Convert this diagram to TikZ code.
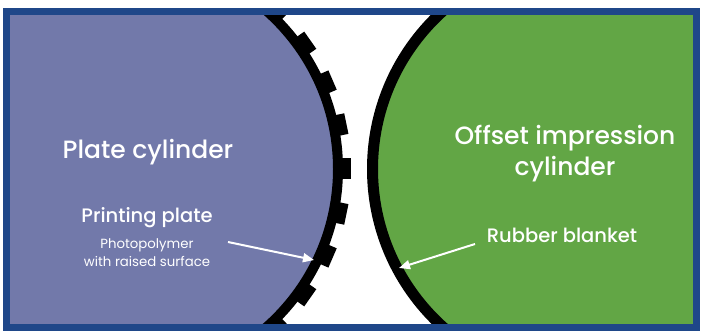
\documentclass[tikz,border=0pt]{standalone}
\usepackage{fontspec}
\setmainfont{Poppins}[BoldFont={Poppins Medium}]
\usetikzlibrary{arrows.meta,positioning}

\definecolor{platecol}{HTML}{7279AA}
\definecolor{offsetcol}{HTML}{62A645}
\definecolor{framecol}{HTML}{1F4789}

\begin{document}
\begin{tikzpicture}[
			x=1pt, y=-1pt,
			node distance=2pt,
			title/.style={text=white, font=\bfseries\fontsize{25}{31.5}\selectfont, align=center},
			label/.style={text=white, font=\bfseries\fontsize{19.5}{22}\selectfont},
			note/.style={text=white, font=\fontsize{13.3}{18.5}\selectfont, align=center},
			tooth/.style={fill=black, minimum width=10pt, minimum height=21pt, inner sep=0pt},
			pointer/.style={draw=white, line width=2pt, -{Triangle[length=11pt, width=9pt]}},
		]
			\useasboundingbox (0,0) rectangle (701,331);
			\coordinate (platecenter) at (127,169);
			\coordinate (offsetcenter) at (585,169);

			\begin{scope}
				\clip (10,15) rectangle (693,323);
				\fill[white] (10,15) rectangle (693,323);
				% plate cylinder with printing plate
				\fill[platecol, draw=black, line width=10pt] (platecenter) circle[radius=211pt];
				\foreach \a in {-46.8,-35.1,-23.4,-11.7,0,11.7,23.4,35.1,46.8}
					\node[tooth, rotate=\a] at ([shift={(\a:219pt)}]platecenter) {};
				% offset cylinder with blanket
				\fill[offsetcol, draw=black, line width=11pt] (offsetcenter) circle[radius=212.5pt];
			\end{scope}
			\draw[framecol, line width=7.5pt] (6.5,11.5) rectangle (696.5,327.5);

			\node[title] (platecyl) at (148,152) {Plate cylinder};
			\node[label] (printing) at (147,218) {Printing plate};
			\node[note, below=3pt of printing] (photo) {Photopolymer\\with raised surface};

			\node[title] (offsetcyl) at (565,153.5) {Offset impression\\cylinder};
			\node[label] (rubber) at (562,235) {Rubber blanket};

			\coordinate (platestart) at (228,242);
			\coordinate (platetip) at (314,260);
			\coordinate (rubberstart) at (475,244);
			\coordinate (rubbertip) at (399,268);
			\draw[pointer] (platestart) -- (platetip);
			\draw[pointer] (rubberstart) -- (rubbertip);
		\end{tikzpicture}
\end{document}
